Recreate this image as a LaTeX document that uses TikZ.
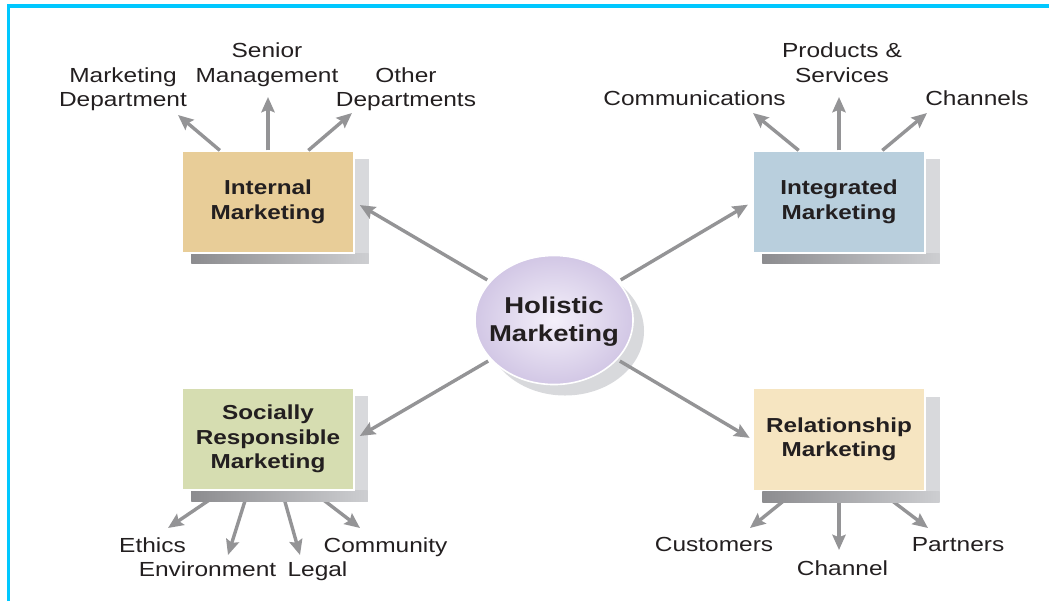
\documentclass[tikz,border=0pt]{standalone}
\usepackage{fontspec}
\setmainfont[FakeStretch=1.2]{Liberation Sans}
\usetikzlibrary{arrows.meta,shapes.geometric,calc}

\definecolor{intcol}{RGB}{232,205,152}
\definecolor{intgcol}{RGB}{185,207,221}
\definecolor{soccol}{RGB}{214,221,177}
\definecolor{relcol}{RGB}{246,229,193}
\definecolor{arrgray}{RGB}{148,148,150}
\definecolor{txtcol}{RGB}{35,31,32}
\definecolor{shgray}{RGB}{216,217,220}
\definecolor{shdark}{RGB}{140,140,143}
\definecolor{shlight}{RGB}{205,206,209}
\definecolor{lavin}{RGB}{244,240,250}
\definecolor{lavout}{RGB}{210,199,229}
\definecolor{cyanline}{RGB}{0,200,255}

\pgfdeclarelayer{bg}
\pgfdeclarelayer{shade}
\pgfsetlayers{bg,shade,main}

\begin{document}
\begin{tikzpicture}[x=0.025cm, y=-0.025cm,
    mbox/.style={rectangle, draw=white, line width=0.03cm, minimum width=4.3cm, minimum height=2.55cm,
        inner sep=0pt, align=center, text=txtcol, font=\bfseries\fontsize{14.4}{17.4}\selectfont},
    hub/.style={ellipse, draw=white, line width=0.04cm, minimum width=3.95cm, minimum height=3.225cm,
        inner sep=0pt, inner color=lavin, outer color=lavout},
    lbl/.style={inner sep=0pt, align=center, text=txtcol, font=\fontsize{14.5}{17.4}\selectfont},
    arr/.style={draw=arrgray, line width=0.085cm, -{Stealth[length=0.38cm,width=0.33cm,inset=0.06cm]}}
  ]
        \useasboundingbox (0,0) rectangle (1049,601);
        \draw[cyanline, line width=0.08cm] (8.5,601) -- (8.5,6) -- (1049,6);

        % the four boxes and the hub
        \node[mbox, fill=intcol] (intm) at (268,202) {Internal\\Marketing};
        \node[mbox, fill=intgcol] (intg) at (839,202) {Integrated\\Marketing};
        \node[mbox, fill=soccol] (socm) at (268,439) {Socially\\Responsible\\Marketing};
        \node[mbox, fill=relcol] (relm) at (839,439.5) {Relationship\\Marketing};
        \node[hub] (holm) at (554,320) {};
        \node[lbl, font=\bfseries\fontsize{16.3}{19.8}\selectfont] (holt) at (554,322) {Holistic\\Marketing};

        % labels
        \node[lbl] (lblmd) at (123,89) {Marketing\\Department};
        \node[lbl] (lblsm) at (267,64.5) {Senior\\Management};
        \node[lbl] (lblod) at (406,89) {Other\\Departments};
        \node[lbl, anchor=base] (lblcom) at (694.5,105) {Communications};
        \node[lbl] (lblps) at (842,62.5) {Products \&\\Services};
        \node[lbl, anchor=base] (lblch) at (977,105) {Channels};
        \node[lbl, anchor=base] (lbleth) at (152.5,552) {Ethics};
        \node[lbl, anchor=base] (lblenv) at (207.5,576) {Environment};
        \node[lbl, anchor=base] (lblleg) at (317.5,576) {Legal};
        \node[lbl, anchor=base] (lblcty) at (385.5,552) {Community};
        \node[lbl, anchor=base] (lblcus) at (714,551) {Customers};
        \node[lbl, anchor=base] (lblchn) at (842.5,575) {Channel};
        \node[lbl, anchor=base] (lblpar) at (958,551) {Partners};

        % arrow tips next to the labels
        \coordinate (tipmd) at (178,115);
        \coordinate (tipsm) at (268,97);
        \coordinate (tipod) at (352,113);
        \coordinate (tipcom) at (753,113);
        \coordinate (tipps) at (839,97);
        \coordinate (tipch) at (927,113);
        \coordinate (tipeth) at (168,528);
        \coordinate (tipenv) at (228,555);
        \coordinate (tipleg) at (300,555);
        \coordinate (tipcty) at (360,528);
        \coordinate (tipcus) at (750,528);
        \coordinate (tipchn) at (839,550);
        \coordinate (tippar) at (928,528);

        \begin{pgfonlayer}{bg}
        \draw[arr] (socm.229) -- (tipeth);
        \draw[arr] (socm.249) -- (tipenv);
        \draw[arr] (socm.285) -- (tipleg);
        \draw[arr] (socm.310) -- (tipcty);
        \draw[arr] (relm.230) -- (tipcus);
        \draw[arr] (relm.270) -- (tipchn);
        \draw[arr] (relm.308) -- (tippar);
        \end{pgfonlayer}

        \begin{pgfonlayer}{shade}
        \fill[shgray] ($(holm.center)+(11,11)$) ellipse [x radius=79, y radius=64.5];
        \fill[shgray] ($(intm.south west)+(10,10)$) rectangle ($(intm.north east)+(14,9)$);
        \shade[left color=shdark, right color=shlight] ($(intm.south west)+(10,10)$) rectangle ($(intm.south east)+(14,0)$);
        \fill[shgray] ($(intg.south west)+(10,10)$) rectangle ($(intg.north east)+(14,9)$);
        \shade[left color=shdark, right color=shlight] ($(intg.south west)+(10,10)$) rectangle ($(intg.south east)+(14,0)$);
        \fill[shgray] ($(socm.south west)+(10,11)$) rectangle ($(socm.north east)+(13,9)$);
        \shade[left color=shdark, right color=shlight] ($(socm.south west)+(10,11)$) rectangle ($(socm.south east)+(13,0)$);
        \fill[shgray] ($(relm.south west)+(10,11)$) rectangle ($(relm.north east)+(14,9)$);
        \shade[left color=shdark, right color=shlight] ($(relm.south west)+(10,11)$) rectangle ($(relm.south east)+(14,0)$);
        \end{pgfonlayer}

        \draw[arr] (intm.133) -- (tipmd);
        \draw[arr] (intm.90) -- (tipsm);
        \draw[arr] (intm.52) -- (tipod);
        \draw[arr] (intg.128) -- (tipcom);
        \draw[arr] (intg.90) -- (tipps);
        \draw[arr] (intg.50) -- (tipch);

        \draw[arr, shorten <=0.07cm, shorten >=0.15cm] (holm.149) -- (intm.east);
        \draw[arr, shorten <=0.07cm, shorten >=0.13cm] (holm.31) -- (intg.west);
        \draw[arr, shorten <=0.07cm, shorten >=0.15cm] (holm.212) -- (socm.east);
        \draw[arr, shorten <=0.07cm, shorten >=0.08cm] (holm.328) -- (relm.west);

    \end{tikzpicture}
\end{document}
